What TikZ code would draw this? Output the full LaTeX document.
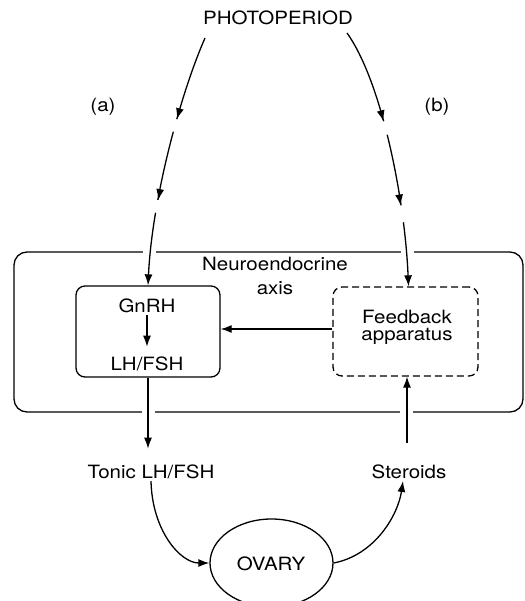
\documentclass[tikz,border=0pt]{standalone}
\usepackage{fontspec}
\setmainfont{TeX Gyre Heros}[FakeStretch=1.12]
\usetikzlibrary{arrows.meta,decorations.markings,shapes.geometric}

\begin{document}
\begin{tikzpicture}[x=1pt,y=-1pt,line width=1.3pt,
    >={Latex[length=11pt,width=8pt]},
    txt/.style={font=\fontsize{18.3}{22}\selectfont,inner sep=2pt,anchor=base},
    frame/.style={draw,rounded corners=9pt,inner sep=0pt},
    gapped/.style 2 args={dash pattern=#1,postaction={decorate},
      decoration={markings,#2}}]
  \useasboundingbox (0,0) rectangle (524,601);

  \node[txt] (photo) at (278,25) {PHOTOPERIOD};
  \node[txt] (a) at (103,112) {(a)};
  \node[txt] (b) at (437,112) {(b)};

  \node[frame,rounded corners=13pt,minimum width=509pt,minimum height=160pt] (axisbox) at (268.5,332) {};
  \node[txt,align=center,anchor=north,inner sep=0pt,font=\fontsize{18.3}{24}\selectfont] (neuro) at (275,257) {Neuroendocrine\\axis};

  \node[frame,minimum width=144pt,minimum height=91pt] (gnrhbox) at (148,331.5) {};
  \node[txt] (gnrh) at (147,312) {GnRH};
  \node[txt] (lhfsh) at (147,370) {LH/FSH};

  \node[frame,dash pattern=on 7pt off 4pt,minimum width=145pt,minimum height=89pt] (fbbox) at (405.5,331.5) {};
  \node[txt,align=center,anchor=north,inner sep=0pt,font=\fontsize{18.3}{17.5}\selectfont] (fb) at (407,309.5) {Feedback\\apparatus};

  \node[txt] (tonic) at (151,478) {Tonic LH/FSH};
  \node[txt] (steroids) at (409,478) {Steroids};
  \node[draw,ellipse,minimum width=123pt,minimum height=88pt] (ovary) at (271.5,563) {};
  \node[txt] (ovarytxt) at (271,570) {OVARY};

  \coordinate (pl) at (205,38);
  \coordinate (pr) at (347,33);

  % breaks in the axis frame
  \fill[white] (143,248) rectangle (156,256);
  \fill[white] (401,248) rectangle (414,256);
  \fill[white] (142,408) rectangle (155,416);
  \fill[white] (400,408) rectangle (413,416);

  \draw[->,gapped={on 86pt off 13pt on 70pt off 13pt on 300pt off 1pt}%
      {mark=at position 86pt with {\arrow{>}},mark=at position 169pt with {\arrow{>}}}]
    (pl) .. controls (180,95) and (152,200) .. (gnrhbox.north);
  \draw[->,gapped={on 96pt off 14pt on 72pt off 17pt on 300pt off 1pt}%
      {mark=at position 96pt with {\arrow{>}},mark=at position 182pt with {\arrow{>}}}]
    (pr) .. controls (382,82) and (405,200) .. ([xshift=3pt]fbbox.north);

  \draw[->,shorten >=7pt] (gnrh) -- (lhfsh);
  \draw[->] ([yshift=2.5pt]fbbox.west) -- ([yshift=2.5pt]gnrhbox.east);
  \draw[->,shorten >=13pt] (gnrhbox.south) -- (gnrhbox.south |- tonic.north);
  \draw[->,shorten <=19pt] ([xshift=1.5pt]fbbox.south |- steroids.north) -- ([xshift=1.5pt]fbbox.south);
  \draw[->] (tonic.south) .. controls (152,530) and (180,563) .. (ovary.west);
  \draw[->] (ovary.east) .. controls (375,555) and (398,515) .. ([xshift=-6pt]steroids.south);
\end{tikzpicture}
\end{document}
